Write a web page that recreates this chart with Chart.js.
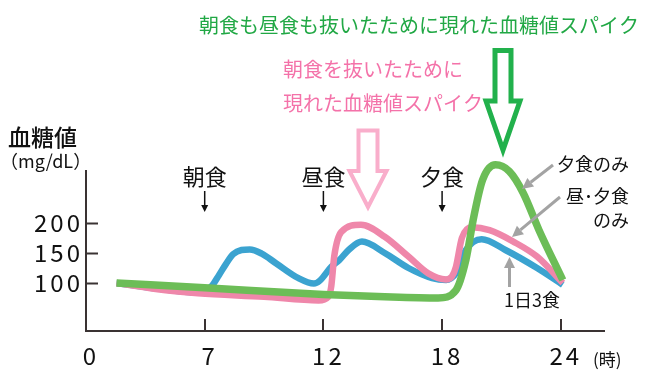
<!DOCTYPE html>
<html><head><meta charset="utf-8">
<script src="https://cdn.jsdelivr.net/npm/chart.js@4"></script>
<style>html,body{margin:0;padding:0;background:#fff;}#wrap{width:646px;height:382px;}</style>
</head><body><div id="wrap"><canvas id="c" width="646" height="382"></canvas></div>
<script>
// ---- data ----
const tickHours = [0, 7, 12, 18, 24];
const yTickValues = [100, 150, 200];
const mealLabels = ['朝食', '昼食', '夕食'];
const mealHours = [7, 12, 18];

const blueHours  = [1.8, 4.7, 6.6, 7.0, 7.3, 7.6, 7.9, 8.2, 8.55, 8.9, 9.4, 10.0, 10.95, 11.6, 11.85, 12.4, 12.8, 13.3, 13.95, 15.1, 16.3, 17.5, 18.2, 18.45, 18.7, 19.2, 20.0, 21.2, 22.8, 24.1];
const blueValues = [100, 89, 84, 86, 95, 113, 132, 148, 155, 156, 149, 133, 108, 99, 104, 127, 138, 156, 169, 150, 125, 108, 105, 108, 116, 155, 173, 155, 125, 97];

const pinkHours  = [1.8, 4.7, 6.6, 9.5, 11.8, 12.25, 12.4, 12.55, 12.9, 13.9, 15.1, 16.3, 17.3, 18.2, 18.5, 18.7, 19.0, 19.5, 20.4, 21.6, 22.8, 24.1];
const pinkValues = [100, 88, 83, 77, 71, 77, 95, 145, 185, 197, 177, 144, 116, 106, 111, 127, 175, 193, 188, 169, 144, 100];

const greenHours  = [1.8, 7, 12, 15.1, 17.8, 18.7, 19.2, 19.6, 20.05, 20.7, 21.4, 22.1, 22.9, 24.1];
const greenValues = [100, 92, 81, 77, 75, 88, 138, 210, 272, 297, 286, 250, 188, 105];

// ---- helpers ----
function hourToPos(h) {
  const n = tickHours.length;
  for (let i = 0; i < n - 1; i++) {
    if (h <= tickHours[i + 1] || i === n - 2) {
      return i + (h - tickHours[i]) / (tickHours[i + 1] - tickHours[i]);
    }
  }
}
function pts(hs, vs) { return hs.map((h, i) => ({ x: hourToPos(h), y: vs[i] })); }

const FONT = "'Noto Sans CJK JP', 'Noto Sans', sans-serif";
const AXIS = '#3a3333';

function arrow(ctx, x1, y1, x2, y2, color, lw, hl, hw) {
  const a = Math.atan2(y2 - y1, x2 - x1);
  const bx = x2 - Math.cos(a) * hl, by = y2 - Math.sin(a) * hl;
  ctx.strokeStyle = color; ctx.fillStyle = color; ctx.lineWidth = lw; ctx.lineCap = 'butt';
  ctx.beginPath(); ctx.moveTo(x1, y1); ctx.lineTo(bx, by); ctx.stroke();
  ctx.beginPath();
  ctx.moveTo(x2, y2);
  ctx.lineTo(bx + Math.sin(a) * hw / 2, by - Math.cos(a) * hw / 2);
  ctx.lineTo(bx - Math.sin(a) * hw / 2, by + Math.cos(a) * hw / 2);
  ctx.closePath(); ctx.fill();
}
function hollowArrow(ctx, cx, top, sw, shoulderY, hw, tipY, color, lw) {
  ctx.strokeStyle = color; ctx.lineWidth = lw; ctx.lineJoin = 'miter';
  ctx.beginPath();
  ctx.moveTo(cx - sw / 2, top);
  ctx.lineTo(cx + sw / 2, top);
  ctx.lineTo(cx + sw / 2, shoulderY);
  ctx.lineTo(cx + hw / 2, shoulderY);
  ctx.lineTo(cx, tipY);
  ctx.lineTo(cx - hw / 2, shoulderY);
  ctx.lineTo(cx - sw / 2, shoulderY);
  ctx.closePath();
  ctx.stroke();
}

const spacingPlugin = {
  id: 'spacing',
  beforeDraw(chart) { chart.ctx.letterSpacing = '3px'; },
  beforeDatasetsDraw(chart) {
    const ctx = chart.ctx;
    ctx.letterSpacing = '0px';
    const xs = chart.scales.x, ys = chart.scales.y, ca = chart.chartArea;
    ctx.save();
    ctx.strokeStyle = AXIS; ctx.lineWidth = 2;
    yTickValues.forEach(v => {
      const y = Math.round(ys.getPixelForValue(v)) + 0.5;
      ctx.beginPath(); ctx.moveTo(ca.left, y); ctx.lineTo(ca.left + 12, y); ctx.stroke();
    });
    tickHours.forEach((h, i) => {
      if (i === 0) return;
      const x = Math.round(xs.getPixelForValue(hourToPos(h)));
      ctx.beginPath(); ctx.moveTo(x, ca.bottom); ctx.lineTo(x, ca.bottom - 12); ctx.stroke();
    });
    ctx.restore();
  }
};

const annotPlugin = {
  id: 'annot',
  afterDraw(chart) {
    const ctx = chart.ctx, xs = chart.scales.x;
    ctx.save();
    ctx.letterSpacing = '0px';
    ctx.textBaseline = 'middle';
    // axis titles
    ctx.fillStyle = '#111';
    ctx.textAlign = 'left';
    ctx.font = '500 23px ' + FONT; ctx.fillText('血糖値', 8, 137);
    ctx.font = '18px ' + FONT; ctx.fillText('（mg/dL）', 0, 161);
    ctx.font = '17px ' + FONT; ctx.fillText('(時)', 593, 360);
    // meals
    ctx.font = '22px ' + FONT; ctx.textAlign = 'center';
    mealHours.forEach((h, i) => {
      const x = xs.getPixelForValue(hourToPos(h));
      ctx.fillStyle = '#111';
      ctx.fillText(mealLabels[i], x, 177);
      arrow(ctx, x, 191, x, 212, '#111', 1.5, 7, 7);
    });
    // big hollow arrows
    hollowArrow(ctx, 368, 130.5, 19, 171, 37, 207, '#f9aecb', 4);
    hollowArrow(ctx, 503, 50.5, 16, 101, 34, 150, '#22b14c', 5);
    // headings
    ctx.textAlign = 'left';
    ctx.font = '20px ' + FONT;
    ctx.fillStyle = '#21a845';
    ctx.fillText('朝食も昼食も抜いたために現れた血糖値スパイク', 199, 25);
    ctx.fillStyle = '#f472a9';
    ctx.fillText('朝食を抜いたために', 283, 69);
    ctx.fillText('現れた血糖値スパイク', 283, 103);
    // series labels
    ctx.fillStyle = '#111';
    ctx.font = '18px ' + FONT;
    ctx.textAlign = 'right';
    ctx.fillText('夕食のみ', 629, 164);
    ctx.fillText('昼･夕食', 629, 196);
    ctx.fillText('のみ', 629, 220);
    ctx.textAlign = 'left';
    ctx.fillText('1日3食', 504, 300);
    const G = '#a3a3a3';
    arrow(ctx, 553, 165, 522, 189, G, 3, 11, 11);
    arrow(ctx, 560, 197, 512, 237, G, 3, 11, 11);
    arrow(ctx, 509.5, 287, 509.5, 257, G, 3, 11, 11);
    ctx.restore();
  }
};

new Chart(document.getElementById('c'), {
  type: 'line',
  data: {
    datasets: [
      { label: '夕食のみ', data: pts(greenHours, greenValues), borderColor: '#6cbd57', borderWidth: 7.5 },
      { label: '昼・夕食のみ', data: pts(pinkHours, pinkValues), borderColor: '#ef87aa', borderWidth: 6.5 },
      { label: '1日3食', data: pts(blueHours, blueValues), borderColor: '#3ba3d0', borderWidth: 6.5 }
    ]
  },
  options: {
    responsive: false,
    animation: false,
    devicePixelRatio: 1,
    layout: { padding: { top: 171, right: 42, left: 0, bottom: 0 } },
    elements: {
      point: { radius: 0 },
      line: { cubicInterpolationMode: 'monotone', borderCapStyle: 'butt', borderJoinStyle: 'round', fill: false }
    },
    datasets: { line: { clip: false } },
    plugins: { legend: { display: false }, tooltip: { enabled: false } },
    scales: {
      x: {
        type: 'linear', min: 0, max: 4.364,
        afterBuildTicks(scale) { scale.ticks = tickHours.map((h, i) => ({ value: i })); },
        afterFit(scale) { scale.height = 51; },
        grid: { display: true, drawOnChartArea: false, drawTicks: false },
        border: { display: true, color: AXIS, width: 2 },
        ticks: {
          padding: 10, labelOffset: 5, color: '#111', maxRotation: 0, autoSkip: false,
          font: { family: FONT, size: 24 },
          callback: (v, i) => String(tickHours[i])
        }
      },
      y: {
        type: 'linear', min: 20, max: 286.67,
        afterBuildTicks(scale) { scale.ticks = yTickValues.map(v => ({ value: v })); },
        afterFit(scale) { scale.width = 86; },
        grid: { display: true, drawOnChartArea: false, drawTicks: false },
        border: { display: true, color: AXIS, width: 2 },
        ticks: {
          padding: 3, color: '#111',
          font: { family: FONT, size: 24 },
          callback: v => String(v)
        }
      }
    }
  },
  plugins: [spacingPlugin, annotPlugin]
});
</script>
</body></html>
